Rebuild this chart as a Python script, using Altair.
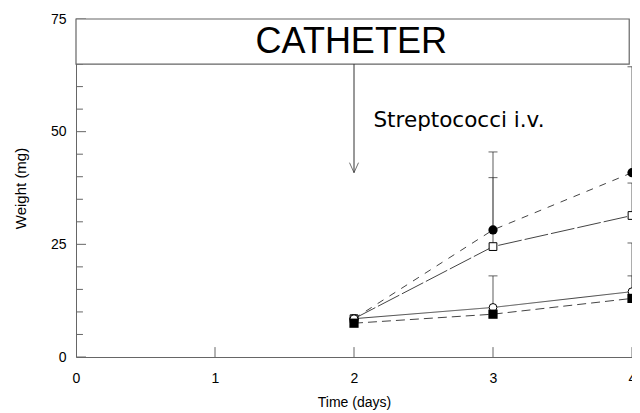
import altair as alt
import pandas as pd

# ---- data ----
days = [2, 3, 4]
filled_circle = [8.5, 28.2, 40.9]
open_square = [8.5, 24.5, 31.4]
open_circle = [8.5, 11.0, 14.5]
filled_square = [7.5, 9.5, 13.0]

# upper ends of error bars (None = no bar visible)
filled_circle_up = [None, 45.5, 64.4]
open_square_up = [None, 39.8, 38.6]
open_circle_up = [None, 18.0, 25.3]
filled_square_up = [None, None, 18.0]

x_ticks = [0, 1, 2, 3, 4]
y_ticks = [0, 25, 50, 75]
y_minor = [5, 10, 15, 20, 30, 35, 40, 45, 55, 60, 65, 70]

box_label = ["CATHETER"]
box_x = [1.98]
box_y = [70.0]
box_range = [0, 3.98, 65, 75]

inj_label = ["Streptococci i.v."]
inj_x = [2.14]
inj_y = [52.3]
arrow_x = [2]
arrow_from = [65]
arrow_to = [40.9]

series = {
    "filled_circle": (filled_circle, filled_circle_up),
    "open_square": (open_square, open_square_up),
    "open_circle": (open_circle, open_circle_up),
    "filled_square": (filled_square, filled_square_up),
}

styles = {
    "filled_circle": dict(shape="circle", filled=True, size=85, dash=[7, 7]),
    "open_square": dict(shape="square", filled=False, size=60, dash=[24, 3]),
    "open_circle": dict(shape="circle", filled=False, size=60, dash=[1, 0]),
    "filled_square": dict(shape="square", filled=True, size=85, dash=[9, 5]),
}

xs = alt.Scale(domain=[0, 4], nice=False, zero=False)
ys = alt.Scale(domain=[0, 75], nice=False, zero=False)

LINE = "#444444"
AXIS = "#666666"
FONT = "Liberation Sans"

layers = []

# base with axes
axis_df = pd.DataFrame({"x": [0, 4], "y": [0, 0]})
base = alt.Chart(axis_df).mark_point(opacity=0).encode(
    x=alt.X("x:Q", scale=xs, axis=alt.Axis(
        values=x_ticks, title="Time (days)", ticks=False, grid=False, labelFlush=False,
        labelPadding=14, labelFontSize=14, labelFont=FONT, labelColor="#000",
        titleFont=FONT, titleFontSize=14, titleFontWeight="normal", titlePadding=10,
        titleColor="#000", domainColor=AXIS, format="d")),
    y=alt.Y("y:Q", scale=ys, axis=alt.Axis(
        values=y_ticks, title="Weight (mg)", ticks=False, grid=False, labelFlush=False,
        labelPadding=10, labelFontSize=14, labelFont=FONT, labelColor="#000",
        titleFont=FONT, titleFontSize=15, titleFontWeight="normal", titlePadding=22,
        titleColor="#000", domainColor=AXIS, format="d")),
)
layers.append(base)

# inward ticks
xt = pd.DataFrame({"x": x_ticks[1:], "y": [0] * 4, "y2": [2.2] * 4})
layers.append(alt.Chart(xt).mark_rule(color=AXIS, strokeWidth=1).encode(
    x=alt.X("x:Q", scale=xs), y=alt.Y("y:Q", scale=ys), y2="y2:Q"))
yt = pd.DataFrame({"y": y_ticks, "x": [0] * 4, "x2": [0.072] * 4})
layers.append(alt.Chart(yt).mark_rule(color=AXIS, strokeWidth=1).encode(
    y=alt.Y("y:Q", scale=ys), x=alt.X("x:Q", scale=xs), x2="x2:Q"))
ym = pd.DataFrame({"y": y_minor, "x": [0] * len(y_minor), "x2": [0.05] * len(y_minor)})
layers.append(alt.Chart(ym).mark_rule(color=AXIS, strokeWidth=1).encode(
    y=alt.Y("y:Q", scale=ys), x=alt.X("x:Q", scale=xs), x2="x2:Q"))

# catheter box
bx = pd.DataFrame({"x": [box_range[0]], "x2": [box_range[1]], "y": [box_range[2]], "y2": [box_range[3]]})
layers.append(alt.Chart(bx).mark_rect(fill="white", stroke=AXIS, strokeWidth=1.2).encode(
    x=alt.X("x:Q", scale=xs), x2="x2:Q", y=alt.Y("y:Q", scale=ys), y2="y2:Q"))
bt = pd.DataFrame({"x": box_x, "y": box_y, "t": box_label})
layers.append(alt.Chart(bt).mark_text(font=FONT, fontSize=36, color="#000", align="center",
                                      baseline="middle").encode(
    x=alt.X("x:Q", scale=xs), y=alt.Y("y:Q", scale=ys), text="t:N"))

# injection arrow + label
ar = pd.DataFrame({"x": arrow_x, "y": arrow_from, "y2": arrow_to})
layers.append(alt.Chart(ar).mark_rule(color="#333", strokeWidth=1).encode(
    x=alt.X("x:Q", scale=xs), y=alt.Y("y:Q", scale=ys), y2="y2:Q"))
ah = pd.DataFrame({"x": arrow_x, "y": arrow_to})
layers.append(alt.Chart(ah).mark_point(shape="M-0.9,-2L0,0L0.9,-2", size=100, filled=False,
                                       stroke="#333", strokeWidth=1).encode(
    x=alt.X("x:Q", scale=xs), y=alt.Y("y:Q", scale=ys)))
it = pd.DataFrame({"x": inj_x, "y": inj_y, "t": inj_label})
layers.append(alt.Chart(it).mark_text(font="DejaVu Sans", fontSize=21.5, color="#000", align="left",
                                      baseline="middle").encode(
    x=alt.X("x:Q", scale=xs), y=alt.Y("y:Q", scale=ys), text="t:N"))

# series
for name, (vals, ups) in series.items():
    st = styles[name]
    df = pd.DataFrame({"day": days, "v": vals})
    layers.append(alt.Chart(df).mark_line(color=LINE, strokeWidth=1, strokeDash=st["dash"]).encode(
        x=alt.X("day:Q", scale=xs), y=alt.Y("v:Q", scale=ys)))

for name, (vals, ups) in series.items():
    rows = [(d, v, u) for d, v, u in zip(days, vals, ups) if u is not None]
    if not rows:
        continue
    edf = pd.DataFrame(rows, columns=["day", "v", "u"])
    layers.append(alt.Chart(edf).mark_rule(color="#777", strokeWidth=1.2).encode(
        x=alt.X("day:Q", scale=xs), y=alt.Y("v:Q", scale=ys), y2="u:Q"))
    layers.append(alt.Chart(edf).mark_tick(orient="horizontal", color="#222", thickness=1, size=9).encode(
        x=alt.X("day:Q", scale=xs), y=alt.Y("u:Q", scale=ys)))

for name, (vals, ups) in series.items():
    st = styles[name]
    df = pd.DataFrame({"day": days, "v": vals})
    if st["filled"]:
        mk = alt.Chart(df).mark_point(shape=st["shape"], size=st["size"], filled=True,
                                      color="#000", opacity=1)
    else:
        mk = alt.Chart(df).mark_point(shape=st["shape"], size=st["size"], filled=True,
                                      fill="white", stroke="#000", strokeWidth=1, opacity=1)
    layers.append(mk.encode(x=alt.X("day:Q", scale=xs), y=alt.Y("v:Q", scale=ys)))

chart = alt.layer(*layers).properties(
    width=556, height=338,
    padding={"left": 68, "top": 11, "right": 0, "bottom": 54},
    autosize=alt.AutoSizeParams(type="none"),
    background="white",
).configure_view(stroke=None)

chart.save("out.html", embed_options={"renderer": "svg", "actions": False})
